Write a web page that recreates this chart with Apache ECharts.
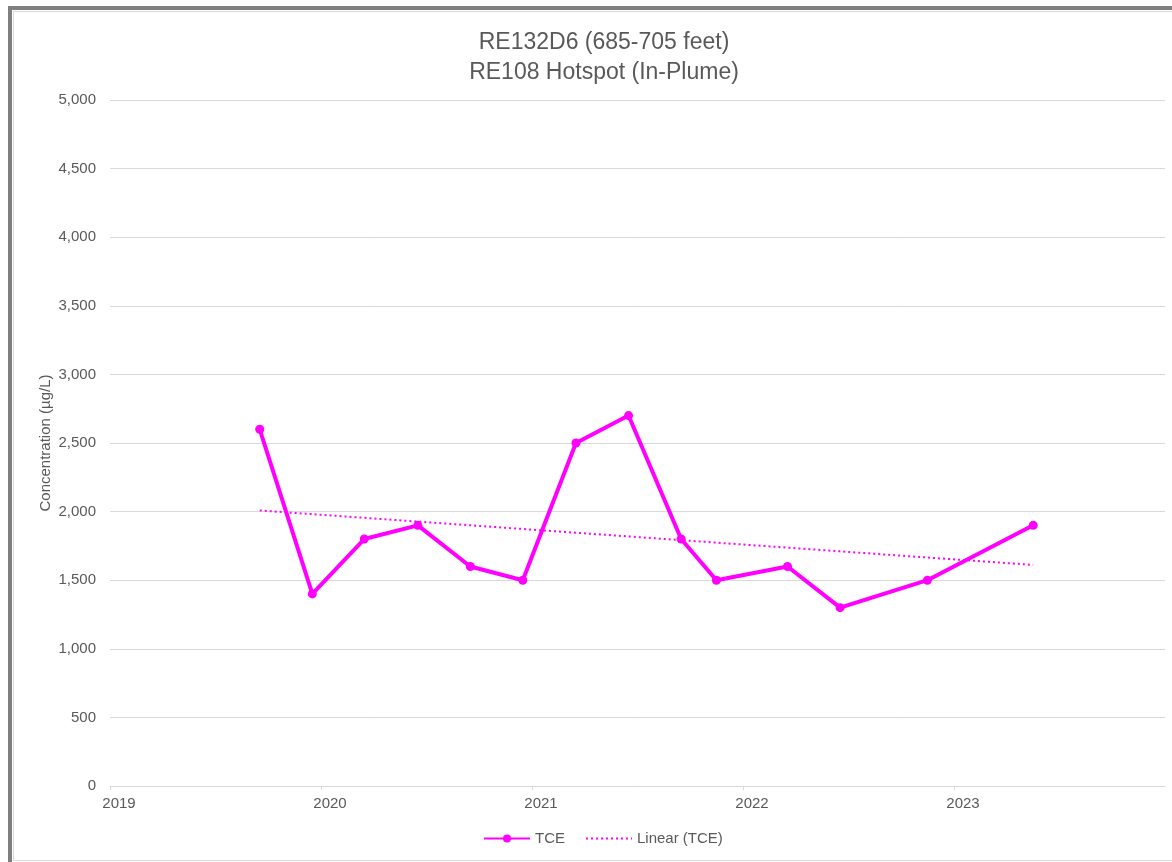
<!DOCTYPE html>
<html>
<head>
<meta charset="utf-8">
<title>RE132D6 TCE</title>
<script src="https://cdn.jsdelivr.net/npm/echarts@6/dist/echarts.min.js"></script>
<style>
  html, body { margin: 0; padding: 0; width: 1172px; height: 862px; overflow: hidden; background: #fff; }
  #frame {
    position: absolute; left: 8px; top: 6px; width: 1200px; height: 900px;
    border-left: 4px solid #7f7f7f; border-top: 4px solid #7f7f7f;
  }
  #inner {
    position: absolute; left: 13px; top: 11px; width: 1200px; height: 848px;
    border-left: 1px solid #d9d9d9; border-top: 1px solid #d9d9d9; border-bottom: 1px solid #d9d9d9;
  }
  #chart { position: absolute; left: 0; top: 0; width: 1172px; height: 862px; }
</style>
</head>
<body>
<div id="frame"></div>
<div id="inner"></div>
<div id="chart"></div>
<script>
// sample dates and TCE concentrations (µg/L)
const sampleDates = [
  '2019-09-17', '2019-12-17', '2020-03-16', '2020-06-17', '2020-09-16',
  '2020-12-16', '2021-03-18', '2021-06-17', '2021-09-16', '2021-11-16',
  '2022-03-19', '2022-06-18', '2022-11-16', '2023-05-18'
]
const tceValues = [2600, 1400, 1800, 1900, 1600, 1500, 2500, 2700, 1800, 1500, 1600, 1300, 1500, 1900]
const yearTicks = [2019, 2020, 2021, 2022, 2023]

// date string -> fractional year
function toYear (s) {
  const d = new Date(s + 'T00:00:00Z')
  const y = d.getUTCFullYear()
  const start = Date.UTC(y, 0, 1)
  const end = Date.UTC(y + 1, 0, 1)
  return y + (d.getTime() - start) / (end - start)
}

const xs = sampleDates.map(toYear)
const tceData = xs.map((x, i) => [x, tceValues[i]])

// least squares trend line, same as Excel's linear trendline
const n = xs.length
const mx = xs.reduce((a, b) => a + b, 0) / n
const my = tceValues.reduce((a, b) => a + b, 0) / n
let sxy = 0
let sxx = 0
xs.forEach((x, i) => {
  sxy += (x - mx) * (tceValues[i] - my)
  sxx += (x - mx) * (x - mx)
})
const slope = sxy / sxx
const trendData = [xs[0], xs[n - 1]].map(x => [x, my + slope * (x - mx)])

const chart = echarts.init(document.getElementById('chart'))
const font = 'Liberation Sans, Arial, sans-serif'
const option = {
  textStyle: { fontFamily: font },
  title: {
    text: 'RE132D6 (685-705 feet)\nRE108 Hotspot (In-Plume)',
    left: 599,
    textAlign: 'center',
    top: 23,
    textStyle: { fontSize: 23, fontWeight: 'normal', color: '#595959', lineHeight: 30, fontFamily: font }
  },
  legend: {
    bottom: 11,
    left: 478,
    itemWidth: 46,
    itemHeight: 10,
    itemGap: 20,
    textStyle: { fontSize: 15, color: '#595959', fontFamily: font },
    data: [
      { name: 'TCE' },
      { name: 'Linear (TCE)', itemStyle: { opacity: 0 } }
    ]
  },
  grid: { left: 110, right: 7, top: 100, bottom: 76, containLabel: false },
  xAxis: {
    type: 'value',
    min: 2019,
    max: 2024,
    interval: 1,
    axisLine: { show: true, lineStyle: { color: '#d9d9d9', width: 1 } },
    axisTick: { show: true, length: 4, lineStyle: { color: '#d9d9d9' } },
    splitLine: { show: false },
    axisLabel: {
      margin: 10,
      fontSize: 15,
      color: '#595959',
      fontFamily: font,
      padding: [0, 0, 0, 18],
      showMaxLabel: false,
      formatter: v => (yearTicks.indexOf(v) >= 0 ? String(v) : '')
    }
  },
  yAxis: {
    type: 'value',
    min: 0,
    max: 5000,
    interval: 500,
    name: 'Concentration (µg/L)',
    nameLocation: 'middle',
    nameGap: 57,
    nameMoveOverlap: false,
    nameTextStyle: { fontSize: 15, color: '#595959', fontFamily: font },
    axisLine: { show: false },
    axisTick: { show: false },
    splitLine: { lineStyle: { color: '#d9d9d9', width: 1 } },
    axisLabel: {
      margin: 14,
      fontSize: 15,
      color: '#595959',
      fontFamily: font,
      formatter: v => v.toLocaleString('en-US')
    }
  },
  series: [
    {
      name: 'TCE',
      type: 'line',
      data: tceData,
      symbol: 'circle',
      symbolSize: 9,
      itemStyle: { color: '#ff00ff' },
      lineStyle: { color: '#ff00ff', width: 4 },
      z: 3
    },
    {
      name: 'Linear (TCE)',
      type: 'line',
      data: trendData,
      symbol: 'none',
      itemStyle: { color: '#ff00ff' },
      lineStyle: { color: '#ff00ff', width: 2, type: [2, 3] },
      z: 2
    }
  ]
}
chart.setOption(option)
</script>
</body>
</html>
